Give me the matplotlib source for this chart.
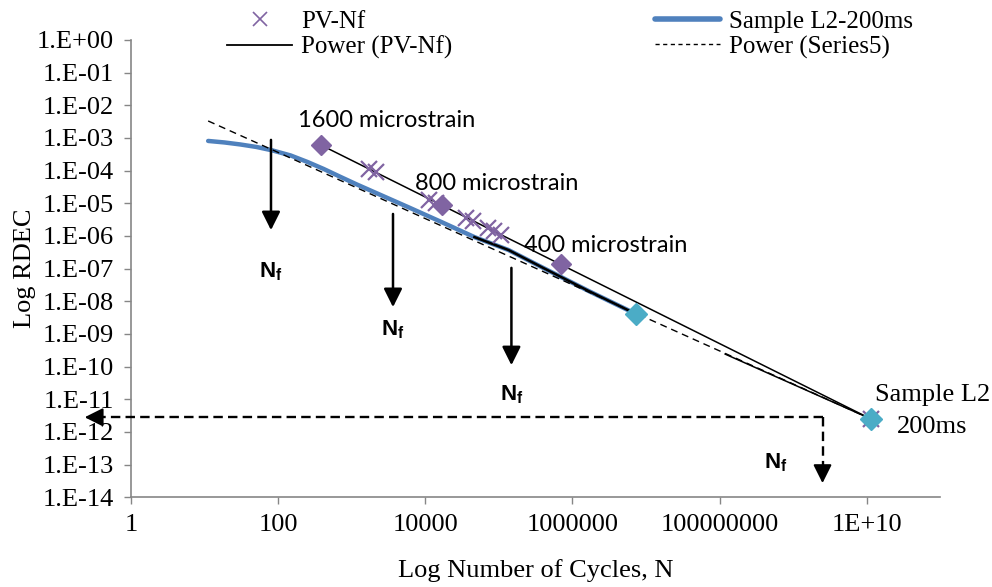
import numpy as np
import matplotlib
matplotlib.use("Agg")
import matplotlib.pyplot as plt
from matplotlib.lines import Line2D
from matplotlib.ticker import FixedLocator, FixedFormatter, NullLocator

plt.rcParams["font.family"] = "Liberation Serif"
plt.rcParams["mathtext.fontset"] = "custom"
plt.rcParams["mathtext.bf"] = "Liberation Sans:bold"
plt.rcParams["mathtext.rm"] = "Liberation Sans"

# PV-Nf points (cycles to failure vs RDEC)
pv_cycles = [1710, 2130, 11300, 14000, 36000, 44900, 71900, 86900, 108000, 1.13e10]
pv_rdec = [1.12e-4, 9.1e-5, 1.26e-5, 1.02e-5, 3.5e-6, 2.9e-6, 1.74e-6, 1.41e-6, 1.07e-6, 2.5e-12]

# strain levels marked with diamonds
strain_cycles = [379, 16950, 690000]
strain_rdec = [6.1e-4, 8.8e-6, 1.38e-7]
strain_labels = ["1600 microstrain", "800 microstrain", "400 microstrain"]

# sample L2, 200 ms rest period
l2_cycles = [11.2, 18.6, 30.6, 50.7, 84, 148, 251, 416, 707, 1175, 2000, 3410,
             5800, 16500, 46500, 134900, 380000, 1.66e6, 7.28e6]
l2_rdec = [8.07e-4, 7.26e-4, 6.30e-4, 5.28e-4, 4.13e-4, 2.90e-4, 1.83e-4, 1.12e-4,
           6.37e-5, 3.75e-5, 2.21e-5, 1.30e-5, 7.67e-6, 2.67e-6, 9.2e-7, 3.7e-7,
           1.11e-7, 2.05e-8, 4.07e-9]

# Series5: end of the L2 test and the extrapolated failure point
s5_cycles = [7.28e6, 1.13e10]
s5_rdec = [4.07e-9, 2.5e-12]
s5_tail_cycles = [1.19e8, 1.13e10]
s5_tail_rdec = [2.4e-10, 2.5e-12]

# power trend lines (end points)
pv_trend_cycles = [379, 1.13e10]
pv_trend_rdec = [6.1e-4, 2.5e-12]
s5_trend_cycles = [11.2, 1.13e10]
s5_trend_rdec = [3.3e-3, 2.5e-12]

x_ticks = [1, 1e2, 1e4, 1e6, 1e8, 1e10]
x_tick_labels = ["1", "100", "10000", "1000000", "100000000", "1E+10"]
y_ticks = [10.0 ** -k for k in range(0, 15)]
y_tick_labels = ["1.E%+03d" % -k for k in range(0, 15)]

# Nf arrows: x position, arrow start, arrow tip, label y
nf_cycles = [80, 3640, 148000]
nf_start = [8.7e-4, 4.7e-6, 1.05e-7]
nf_tip = [1.5e-6, 6.6e-9, 1.1e-10]
nf_label_rdec = [7.8e-8, 1.3e-9, 1.34e-11]

# extrapolation of Sample L2 to failure
fail_cycles = 2.5e9
fail_rdec = 2.8e-12

purple = "#8064a2"
cyan = "#4bacc6"
blue = "#4f81bd"
grey = "#868686"

fig = plt.figure(figsize=(9.92, 5.87), dpi=100)
ax = fig.add_axes([0.132, 0.153, 0.816, 0.779])
ax.set_xscale("log")
ax.set_yscale("log")

ax.plot(l2_cycles, l2_rdec, color=blue, lw=3.2, solid_capstyle="round",
        solid_joinstyle="round", zorder=2)
ax.plot(l2_cycles[14:], l2_rdec[14:], color="black", lw=1.8, zorder=3)
ax.plot(s5_tail_cycles, s5_tail_rdec, color="black", lw=1.1, zorder=3)
ax.plot(s5_trend_cycles, s5_trend_rdec, color="black", lw=1.0,
        linestyle=(0, (5, 3.5)), zorder=3)
ax.plot(pv_trend_cycles, pv_trend_rdec, color="black", lw=1.1, zorder=3)
ax.plot(pv_cycles, pv_rdec, linestyle="none", marker="x", ms=12, mew=1.6,
        color=purple, zorder=4)
ax.plot(strain_cycles, strain_rdec, linestyle="none", marker="D", ms=10,
        color=purple, zorder=4)
ax.plot(s5_cycles, s5_rdec, linestyle="none", marker="D", ms=11,
        color=cyan, zorder=5)

# strain labels
label_pos = [(3013, 3.3e-3), (92500, 3.9e-5), (2.84e6, 5.25e-7)]
for txt, (lx, ly) in zip(strain_labels, label_pos):
    ax.text(lx, ly, txt, family="Lato", fontsize=17, ha="center", va="center")
ax.text(7.9e10, 1.34e-11, "Sample L2", fontsize=19, ha="center", va="center")
ax.text(7.8e10, 1.4e-12, "200ms", fontsize=19, ha="center", va="center")

# Nf arrows
head = "-|>,head_length=0.8,head_width=0.4"
for cx, y0, y1, yl in zip(nf_cycles, nf_start, nf_tip, nf_label_rdec):
    ax.annotate("", xy=(cx, y1), xytext=(cx, y0),
                arrowprops=dict(arrowstyle=head, lw=1.8, color="black",
                                mutation_scale=14, shrinkA=0, shrinkB=0))
    ax.text(cx, yl, r"$\mathbf{N}_{\mathbf{f}}$", fontsize=16, ha="center", va="center")

# dashed extrapolation to the RDEC axis and the cycle axis
dash = (0, (4, 2.2))
ax.plot([fail_cycles, 0.34], [fail_rdec, fail_rdec], color="black", lw=1.7,
        linestyle=dash, clip_on=False, zorder=3)
ax.plot([fail_cycles, fail_cycles], [fail_rdec, 5e-14], color="black", lw=1.7,
        linestyle=dash, clip_on=False, zorder=3)
ax.annotate("", xy=(0.235, fail_rdec), xytext=(0.4, fail_rdec),
            arrowprops=dict(arrowstyle=head, lw=1.5, color="black",
                            mutation_scale=14, shrinkA=0, shrinkB=0),
            annotation_clip=False)
ax.annotate("", xy=(fail_cycles, 2.7e-14), xytext=(fail_cycles, 6e-14),
            arrowprops=dict(arrowstyle=head, lw=1.5, color="black",
                            mutation_scale=14, shrinkA=0, shrinkB=0))
ax.text(5.7e8, 1.1e-13, r"$\mathbf{N}_{\mathbf{f}}$", fontsize=16, ha="center", va="center")

ax.set_xlim(1, 1e11)
ax.set_ylim(1e-14, 1)
ax.xaxis.set_major_locator(FixedLocator(x_ticks))
ax.xaxis.set_major_formatter(FixedFormatter(x_tick_labels))
ax.xaxis.set_minor_locator(NullLocator())
ax.yaxis.set_major_locator(FixedLocator(y_ticks))
ax.yaxis.set_major_formatter(FixedFormatter(y_tick_labels))
ax.yaxis.set_minor_locator(NullLocator())
ax.tick_params(direction="out", length=5, width=1, color=grey, labelsize=19, pad=7)

for side in ["top", "right"]:
    ax.spines[side].set_visible(False)
for side in ["left", "bottom"]:
    ax.spines[side].set_color(grey)
    ax.spines[side].set_linewidth(1.2)

ax.set_xlabel("Log Number of Cycles, N", fontsize=19)
ax.set_ylabel("Log RDEC", fontsize=19)
ax.xaxis.set_label_coords(0.5, -0.136)
ax.yaxis.set_label_coords(-0.117, 0.5)

handles = [
    Line2D([], [], linestyle="none", marker="x", ms=10, mew=1.2, color=purple),
    Line2D([], [], color="black", lw=1.3),
    Line2D([], [], color=blue, lw=4, solid_capstyle="round"),
    Line2D([], [], color="black", lw=1.0, linestyle=(0, (3, 2.5))),
]
labels = ["PV-Nf", "Power (PV-Nf)", "Sample L2-200ms", "Power (Series5)"]
fig.legend(handles, labels, ncol=2, loc="upper left", bbox_to_anchor=(0.229, 0.982),
           frameon=False, fontsize=18, handlelength=2.6, handletextpad=0.36,
           columnspacing=8.1, labelspacing=0.1, borderpad=0, borderaxespad=0)

fig.savefig("out.png", dpi=100)
